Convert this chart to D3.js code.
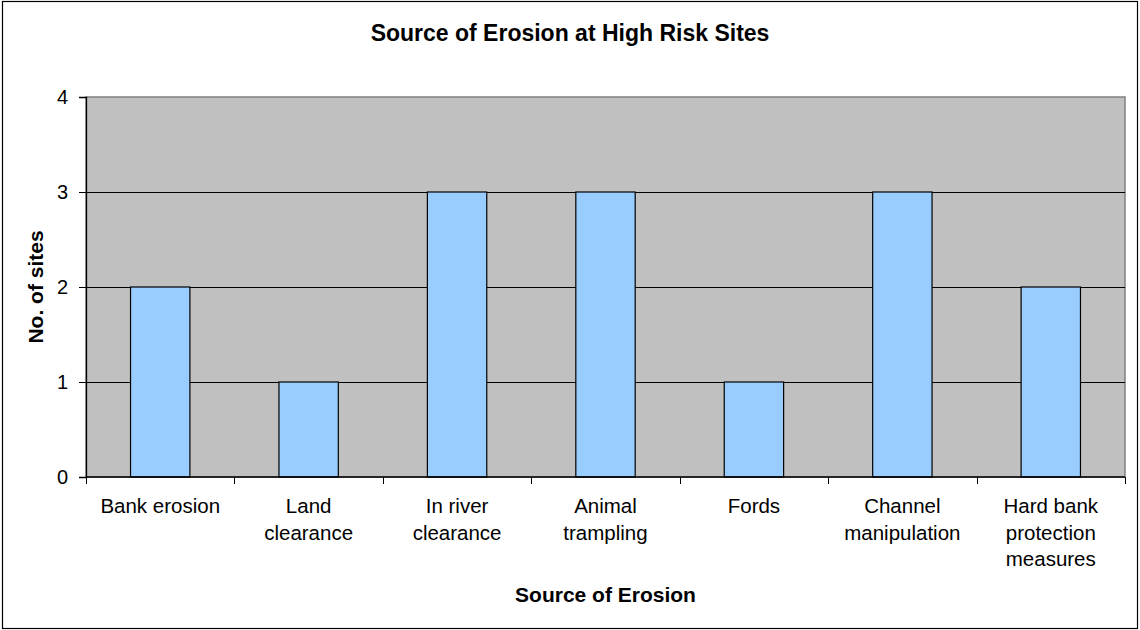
<!DOCTYPE html>
<html>
<head>
<meta charset="utf-8">
<script src="https://cdn.jsdelivr.net/npm/d3@7"></script>
<style>
  html, body { margin: 0; padding: 0; background: #fff; }
  svg { display: block; font-family: "Liberation Sans", Arial, sans-serif; }
</style>
</head>
<body>
<svg id="chart" width="1140" height="630"></svg>
<script>
// Erosion sources and the number of high-risk sites for each
const categories = [
  "Bank erosion",
  "Land clearance",
  "In river clearance",
  "Animal trampling",
  "Fords",
  "Channel manipulation",
  "Hard bank protection measures"
];
// Wrapped label lines for each category
const labelLines = [
  ["Bank erosion"],
  ["Land", "clearance"],
  ["In river", "clearance"],
  ["Animal", "trampling"],
  ["Fords"],
  ["Channel", "manipulation"],
  ["Hard bank", "protection", "measures"]
];
const siteCounts = [2, 1, 3, 3, 1, 3, 2];
const yTicks = [0, 1, 2, 3, 4];

const W = 1140, H = 630;
const plot = { left: 86, top: 97, right: 1125, bottom: 477 };

const svg = d3.select("#chart");

// outer frame
svg.append("rect")
  .attr("x", 2.5).attr("y", 1.5)
  .attr("width", 1135).attr("height", 627)
  .attr("fill", "#fff").attr("stroke", "#000").attr("stroke-width", 1.2);

const x = d3.scaleBand()
  .domain(categories)
  .range([plot.left, plot.right])
  .paddingInner(0).paddingOuter(0);

const y = d3.scaleLinear()
  .domain([0, 4])
  .range([plot.bottom, plot.top]);

// plot background
svg.append("rect")
  .attr("x", plot.left).attr("y", plot.top)
  .attr("width", plot.right - plot.left)
  .attr("height", plot.bottom - plot.top)
  .attr("fill", "#c0c0c0")
  .attr("stroke", "#808080").attr("stroke-width", 1.5);

// horizontal gridlines
svg.append("g")
  .selectAll("line")
  .data(yTicks.filter(t => t > 0 && t < 4))
  .join("line")
  .attr("x1", plot.left).attr("x2", plot.right)
  .attr("y1", d => Math.round(y(d)) + 0.5)
  .attr("y2", d => Math.round(y(d)) + 0.5)
  .attr("stroke", "#000").attr("stroke-width", 1);

// bars
const barW = x.bandwidth() * 0.4;
svg.append("g")
  .selectAll("rect")
  .data(categories)
  .join("rect")
  .attr("x", (d) => x(d) + (x.bandwidth() - barW) / 2)
  .attr("y", (d, i) => y(siteCounts[i]))
  .attr("width", barW)
  .attr("height", (d, i) => y(0) - y(siteCounts[i]))
  .attr("fill", "#99ccff")
  .attr("stroke", "#000").attr("stroke-width", 1.2);

// y axis
const yAxis = d3.axisLeft(y)
  .tickValues(yTicks)
  .tickFormat(d3.format("d"))
  .tickSize(7)
  .tickPadding(11);
const gy = svg.append("g")
  .attr("transform", `translate(${plot.left},0)`)
  .call(yAxis);
gy.select(".domain").attr("stroke", "#000").attr("stroke-width", 1.3);
gy.selectAll(".tick line").attr("stroke", "#000");
gy.selectAll(".tick text")
  .attr("font-size", 20).attr("fill", "#000")
  .attr("font-family", "Liberation Sans, Arial, sans-serif");

// x axis: ticks at category boundaries
const gx = svg.append("g")
  .attr("transform", `translate(0,${plot.bottom})`);
gx.append("line")
  .attr("x1", plot.left).attr("x2", plot.right)
  .attr("y1", 0).attr("y2", 0)
  .attr("stroke", "#000").attr("stroke-width", 1.3);
const bounds = categories.map(c => x(c)).concat([plot.right]);
gx.selectAll("line.tick")
  .data(bounds)
  .join("line")
  .attr("class", "tick")
  .attr("x1", d => Math.round(d) + 0.5).attr("x2", d => Math.round(d) + 0.5)
  .attr("y1", 0).attr("y2", 7)
  .attr("stroke", "#000");

// category labels
const labels = gx.selectAll("text.cat")
  .data(categories)
  .join("text")
  .attr("class", "cat")
  .attr("text-anchor", "middle")
  .attr("font-size", 20.5)
  .attr("fill", "#000");
labels.each(function (d, i) {
  const t = d3.select(this);
  labelLines[i].forEach((line, j) => {
    t.append("tspan")
      .attr("x", x(d) + x.bandwidth() / 2)
      .attr("y", 36 + j * 26.5)
      .text(line);
  });
});

// titles
svg.append("text")
  .attr("x", 570).attr("y", 41)
  .attr("text-anchor", "middle")
  .attr("font-size", 23).attr("font-weight", "bold")
  .text("Source of Erosion at High Risk Sites");

svg.append("text")
  .attr("x", (plot.left + plot.right) / 2).attr("y", 602)
  .attr("text-anchor", "middle")
  .attr("font-size", 21).attr("font-weight", "bold")
  .text("Source of Erosion");

svg.append("text")
  .attr("transform", `translate(43,${(plot.top + plot.bottom) / 2}) rotate(-90)`)
  .attr("text-anchor", "middle")
  .attr("font-size", 21).attr("font-weight", "bold")
  .text("No. of sites");
</script>
</body>
</html>
